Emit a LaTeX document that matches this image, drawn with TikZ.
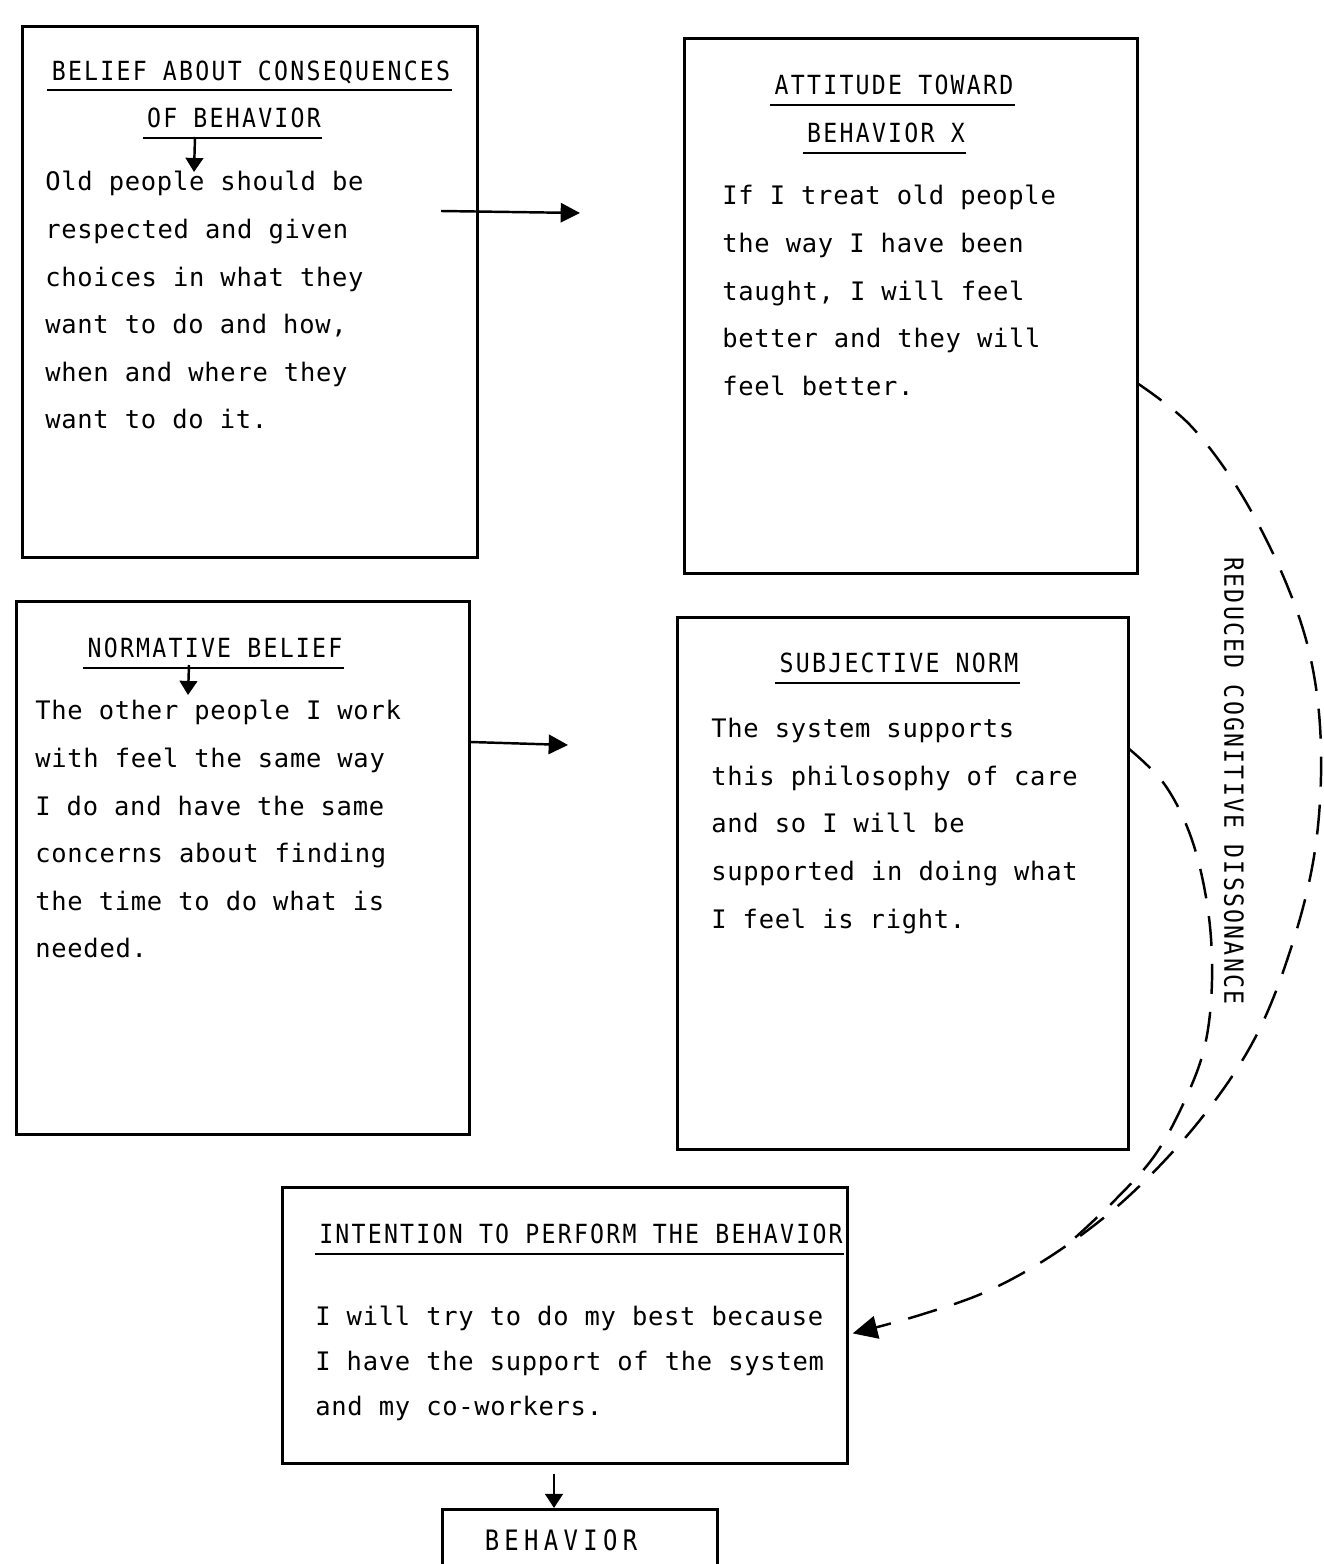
\documentclass[tikz,border=0pt]{standalone}
\usepackage{fontspec}
\newfontfamily\bodyfont[LetterSpace=2.8]{DejaVu Sans Mono}
\newfontfamily\headfont[FakeStretch=0.88,LetterSpace=8.5]{DejaVu Sans Mono}
\newfontfamily\behfont[FakeStretch=0.85,LetterSpace=19]{DejaVu Sans Mono}
\usetikzlibrary{arrows.meta,calc}
\begin{document}
\begin{tikzpicture}[x=0.02cm,y=-0.02cm,
 box/.style={draw,line width=1.6pt,inner sep=0pt,anchor=north west},
 head/.style={font=\headfont\fontsize{15pt}{18pt}\selectfont,inner sep=0pt},
 body/.style={font=\bodyfont\fontsize{14.5pt}{27.1pt}\selectfont,inner sep=0pt,anchor=north west,align=left},
 uline/.style={line width=1.2pt},
 arr/.style={line width=1.4pt,-{Triangle[length=11pt,width=11pt]}},
 smallarr/.style={line width=1.4pt,-{Triangle[length=8pt,width=10pt]}},
 dsh/.style={line width=1.4pt,dash pattern=on 0.6cm off 0.36cm}]
\useasboundingbox[fill=white] (0,0) rectangle (1323,1564);

% boxes
\node[box,minimum width=9.10cm,minimum height=10.62cm] (b1) at (21,25) {};
\node[box,minimum width=9.06cm,minimum height=10.70cm] (b2) at (683,37) {};
\node[box,minimum width=9.06cm,minimum height=10.66cm] (b3) at (15,600) {};
\node[box,minimum width=9.02cm,minimum height=10.64cm] (b4) at (676,616) {};
\node[box,minimum width=11.30cm,minimum height=5.52cm] (b5) at (281,1186) {};
\node[box,minimum width=5.50cm,minimum height=2.40cm] (b6) at (441,1508) {};

% headings
\node[head] (h1a) at (251,72) {BELIEF ABOUT CONSEQUENCES};
\node[head] (h1b) at (234,118) {OF BEHAVIOR};
\node[head] (h2a) at (894,85) {ATTITUDE TOWARD};
\node[head] (h2b) at (886,133) {BEHAVIOR X};
\node[head] (h3) at (215,648) {NORMATIVE BELIEF};
\node[head] (h4) at (899,663) {SUBJECTIVE NORM};
\node[head] (h5) at (581,1234) {INTENTION TO PERFORM THE BEHAVIOR};
\node[font=\behfont\fontsize{16pt}{19pt}\selectfont,inner sep=0pt] (h6) at (561,1540) {BEHAVIOR};

\foreach \h in {h1a,h1b,h2a,h2b,h3,h4,h5}{
  \draw[uline] ($(\h.base west)+(-4,10)$) -- ($(\h.base east)+(1,10)$);
}

% body texts
\node[body] (t1) at (45,171) {Old people should be\\respected and given\\choices in what they\\want to do and how,\\when and where they\\want to do it.};
\node[body] (t2) at (722,185) {If I treat old people\\the way I have been\\taught, I will feel\\better and they will\\feel better.};
\node[body] (t3) at (35,700) {The other people I work\\with feel the same way\\I do and have the same\\concerns about finding\\the time to do what is\\needed.};
\node[body] (t4) at (711,718) {The system supports\\this philosophy of care\\and so I will be\\supported in doing what\\I feel is right.};
\node[body,font=\bodyfont\fontsize{14.5pt}{25.5pt}\selectfont] (t5) at (315,1306) {I will try to do my best because\\I have the support of the system\\and my co-workers.};

% rotated label
\node[head,rotate=-90] (rcd) at (1234,781) {REDUCED COGNITIVE DISSONANCE};

% arrows
\coordinate (a1s) at (441,211);
\coordinate (a1e) at (580,213);
\draw[arr] (a1s) -- (a1e);
\coordinate (a2s) at (b3.east |- 0,742);
\coordinate (a2e) at (568,745);
\draw[arr] (a2s) -- (a2e);
\coordinate (s1s) at (195,137);
\coordinate (s1e) at (194,172);
\draw[smallarr] (s1s) -- (s1e);
\coordinate (s3s) at (189,665);
\coordinate (s3e) at (188,695);
\draw[smallarr] (s3s) -- (s3e);
\coordinate (s5s) at (554,1474);
\draw[smallarr] (s5s) -- (b6.north -| s5s);

% dashed curves
\coordinate (d1s) at (1137,383);
\coordinate (d2s) at (1128,748);
\coordinate (dend) at ($(b5.east)+(4,8)$);
\draw[dsh,-{Triangle[length=14pt,width=13pt]}] plot[smooth,tension=0.6] coordinates {(d1s) (1190,425) (1240,492) (1284,578) (1311,660) (1321,750) (1315,850) (1292,945) (1255,1038) (1200,1120) (1130,1195) (1060,1250) (990,1290) (920,1315) (dend)};
\draw[dsh] plot[smooth,tension=0.6] coordinates {(d2s) (1165,785) (1192,840) (1208,910) (1212,980) (1205,1045) (1185,1100) (1155,1155) (1115,1200) (1066,1246)};
\end{tikzpicture}
\end{document}
